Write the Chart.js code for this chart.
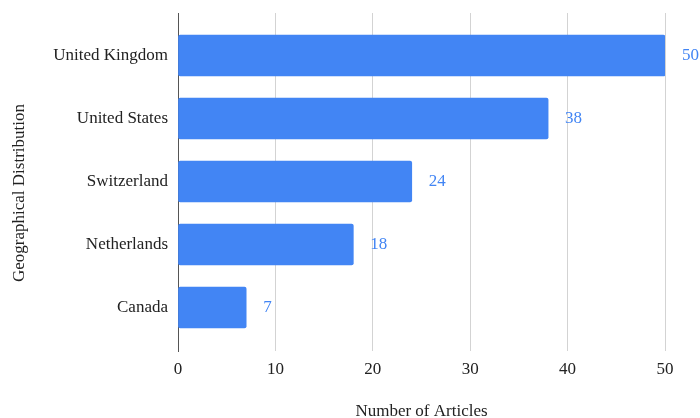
<!DOCTYPE html>
<html>
<head>
<meta charset="utf-8">
<script src="https://cdn.jsdelivr.net/npm/chart.js@4"></script>
<style>
  body { margin: 0; background: #fff; }
</style>
</head>
<body>
<canvas id="chart" width="700" height="418"></canvas>
<script>
// Chart data
const countries = ['United Kingdom', 'United States', 'Switzerland', 'Netherlands', 'Canada'];
const articles = [50, 38, 24, 18, 7];
const xTicks = [0, 10, 20, 30, 40, 50];

const barColor = '#4285F4';
const serif = "'Liberation Serif', 'Times New Roman', serif";

// value labels at the end of each bar
const valueLabels = {
    id: 'valueLabels',
    afterDatasetsDraw(chart) {
        const ctx = chart.ctx;
        const meta = chart.getDatasetMeta(0);
        ctx.save();
        ctx.font = '17px ' + serif;
        ctx.fillStyle = barColor;
        ctx.textAlign = 'left';
        ctx.textBaseline = 'middle';
        meta.data.forEach((bar, i) => {
            ctx.fillText(String(articles[i]), bar.x + 17, bar.y);
        });
        ctx.restore();
    }
};

// rotated y axis title
const yTitle = {
    id: 'yTitle',
    afterDraw(chart) {
        const ctx = chart.ctx;
        ctx.save();
        ctx.translate(20, 193);
        ctx.rotate(-Math.PI / 2);
        ctx.font = '17px ' + serif;
        ctx.fillStyle = '#222';
        ctx.textAlign = 'center';
        ctx.textBaseline = 'middle';
        ctx.fillText('Geographical Distribution', 0, 0);
        ctx.restore();
    }
};

const ctx = document.getElementById('chart').getContext('2d');
const chart = new Chart(ctx, {
    type: 'bar',
    data: {
        datasets: [{
            data: countries.map((c, i) => ({ x: articles[i], y: i })),
            backgroundColor: barColor,
            borderRadius: 2,
            borderSkipped: false,
            barThickness: 41
        }]
    },
    options: {
        indexAxis: 'y',
        responsive: false,
        animation: false,
        layout: {
            padding: { top: 13, right: 35, left: 0, bottom: 0 }
        },
        plugins: {
            legend: { display: false },
            tooltip: { enabled: false }
        },
        scales: {
            x: {
                type: 'linear',
                min: 0,
                max: 50,
                afterBuildTicks: s => { s.ticks = xTicks.map(v => ({ value: v })); },
                afterFit: s => { s.height = 67; },
                grid: { color: '#d3d3d3', drawTicks: false },
                border: { display: false },
                ticks: {
                    padding: 8,
                    color: '#222',
                    font: { family: serif, size: 17 }
                },
                title: {
                    display: true,
                    text: 'Number of Articles',
                    color: '#222',
                    font: { family: serif, size: 17, lineHeight: 0.75 },
                    padding: 0
                }
            },
            y: {
                type: 'linear',
                reverse: true,
                offset: false,
                min: -0.675,
                max: 4.69,
                afterBuildTicks: s => { s.ticks = countries.map((c, i) => ({ value: i })); },
                afterFit: s => {
                    s.width = 178;
                    s.paddingTop = 0;
                    s.paddingBottom = 0;
                },
                grid: { display: false, drawTicks: false },
                border: { color: '#555', width: 1 },
                ticks: {
                    padding: 10,
                    color: '#222',
                    font: { family: serif, size: 17 },
                    callback: v => countries[v]
                }
            }
        }
    },
    plugins: [valueLabels, yTitle]
});
</script>
</body>
</html>
